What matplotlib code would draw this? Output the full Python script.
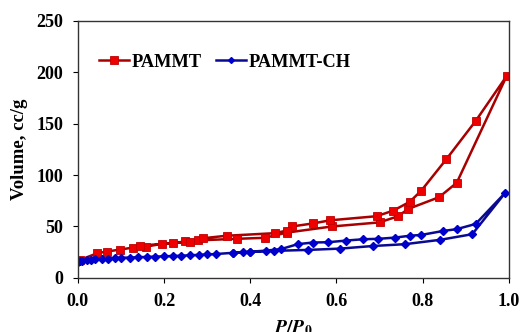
import matplotlib
matplotlib.use("Agg")
import matplotlib.pyplot as plt

plt.rcParams["font.family"] = ["Liberation Serif", "DejaVu Serif"]
plt.rcParams["font.weight"] = "bold"
plt.rcParams["mathtext.fontset"] = "stix"

# PAMMT isotherm (adsorption then desorption), P/P0 vs volume cc/g
pammt_p = [0.005, 0.045, 0.067, 0.097, 0.128, 0.159, 0.194, 0.221, 0.248, 0.279,
           0.368, 0.434, 0.484, 0.589, 0.700, 0.743, 0.766, 0.838, 0.879, 0.995,
           0.923, 0.855, 0.797, 0.770, 0.732, 0.693, 0.585, 0.546, 0.496, 0.484,
           0.457, 0.345, 0.291, 0.260, 0.144]
pammt_v = [17.5, 24.0, 25.6, 27.5, 29.5, 30.5, 33.0, 33.7, 35.5, 36.5,
           38.0, 39.0, 44.0, 50.0, 54.0, 60.0, 67.0, 78.5, 92.5, 196.5,
           152.7, 115.5, 85.0, 74.0, 65.5, 60.0, 56.0, 53.0, 50.0, 46.0,
           43.5, 41.0, 38.6, 35.0, 31.4]

# PAMMT-CH isotherm
ch_p = [0.000, 0.005, 0.010, 0.020, 0.030, 0.040, 0.055, 0.070, 0.085, 0.100,
        0.120, 0.140, 0.160, 0.180, 0.200, 0.220, 0.240, 0.260, 0.280, 0.300,
        0.320, 0.360, 0.400, 0.456, 0.533, 0.609, 0.684, 0.759, 0.840, 0.915,
        0.992, 0.923, 0.879, 0.848, 0.797, 0.770, 0.736, 0.697, 0.662, 0.622,
        0.581, 0.545, 0.510, 0.471, 0.436, 0.400, 0.382, 0.360]
ch_v = [15.3, 16.0, 16.5, 17.2, 17.6, 18.0, 18.4, 18.8, 19.2, 19.5,
        19.8, 20.1, 20.4, 20.7, 21.0, 21.3, 21.6, 22.0, 22.4, 22.8,
        23.2, 24.4, 25.2, 26.3, 27.2, 28.5, 31.0, 32.8, 37.0, 42.5,
        83.0, 52.5, 47.4, 45.7, 41.8, 41.0, 39.2, 38.0, 37.6, 36.3,
        34.7, 34.4, 32.8, 28.0, 26.5, 25.5, 25.0, 24.5]

fig = plt.figure(figsize=(5.23, 3.32), dpi=100)
ax = fig.add_axes([0.149, 0.163, 0.824, 0.774])

ax.plot(pammt_p, pammt_v, color="#a80000", linewidth=1.8, marker="s",
        markersize=6, markerfacecolor="#ee0000", markeredgecolor="#c00000",
        markeredgewidth=0.6, label="PAMMT")
ax.plot(ch_p, ch_v, color="#0a0a90", linewidth=1.8, marker="D",
        markersize=4.5, markerfacecolor="#0000cc", markeredgecolor="#0000cc",
        label="PAMMT-CH")

ax.set_xlim(0, 1.0)
ax.set_ylim(0, 250)
ax.set_xticks([0.0, 0.2, 0.4, 0.6, 0.8, 1.0])
ax.set_xticklabels(["0.0", "0.2", "0.4", "0.6", "0.8", "1.0"])
ax.set_yticks([0, 50, 100, 150, 200, 250])
ax.tick_params(direction="out", length=3.6, width=0.8, labelsize=13)
ax.tick_params(axis="x", pad=7)
ax.tick_params(axis="y", pad=7)
for lab in ax.get_xticklabels() + ax.get_yticklabels():
    lab.set_fontweight("bold")
for s in ax.spines.values():
    s.set_linewidth(1.0)
    s.set_color("#333333")

ax.set_ylabel("Volume, cc/g", fontsize=13.5, fontweight="bold")
ax.yaxis.set_label_coords(-0.117, 0.5)
ax.set_xlabel(r"$\mathbfit{P}/\mathbfit{P}_{\mathbf{0}}$", fontsize=14, labelpad=6)

leg = ax.legend(loc="center left", bbox_to_anchor=(0.032, 0.84), ncol=2,
                frameon=False, fontsize=13.2, handlelength=1.65,
                handletextpad=0.15, columnspacing=0.75, borderaxespad=0)
for t in leg.get_texts():
    t.set_fontweight("bold")
leg.legend_handles[1].set_markersize(3)

fig.savefig("out.png", dpi=100)
